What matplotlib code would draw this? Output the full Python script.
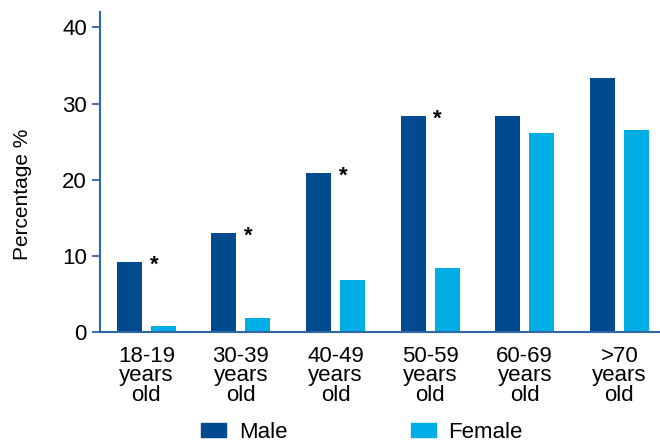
import matplotlib
matplotlib.use("Agg")
import matplotlib.pyplot as plt
import numpy as np
from matplotlib.patches import Patch

plt.rcParams['font.family'] = ['Liberation Sans', 'DejaVu Sans']

categories = ["18-19\nyears\nold", "30-39\nyears\nold", "40-49\nyears\nold",
              "50-59\nyears\nold", "60-69\nyears\nold", ">70\nyears\nold"]
male = [9.2, 13.0, 20.9, 28.4, 28.4, 33.4]
female = [0.85, 1.9, 6.9, 8.4, 26.1, 26.5]
significant = [True, True, True, True, False, False]

male_color = "#004a8f"
female_color = "#00aee6"
spine_color = "#2e66a6"

fig = plt.figure(figsize=(6.6, 4.43), dpi=100)
ax = fig.add_axes([100 / 660, 1 - 332.3 / 443, 1 - 100 / 660, 320.6 / 443])

x = np.arange(len(categories))
w = 0.264
off = 0.18
ax.bar(x - off, male, width=w, color=male_color, label="Male")
ax.bar(x + off, female, width=w, color=female_color, label="Female")

# significance markers beside the male bars
for xi, m, s in zip(x, male, significant):
    if s:
        ax.text(xi + 0.08, m - 0.4, "*", ha="center", va="center",
                fontsize=16, fontweight="bold", color="black")

ax.set_xlim(-0.49, 5.43)
ax.set_ylim(0, 42.05)
ax.set_yticks([0, 10, 20, 30, 40])
ax.set_xticks(x)
ax.set_xticklabels(categories, fontsize=16, linespacing=0.89)
ax.tick_params(axis="x", length=0, pad=10)
ax.tick_params(axis="y", length=5.5, width=1.3, color=spine_color,
               labelsize=16, pad=4)

for side in ("top", "right"):
    ax.spines[side].set_visible(False)
for side in ("left", "bottom"):
    ax.spines[side].set_color(spine_color)
    ax.spines[side].set_linewidth(1.5)

ax.text(-0.139, 0.431, "Percentage %", transform=ax.transAxes, rotation=90,
        ha="center", va="center", fontsize=15)

handles = [Patch(color=male_color, label="Male"),
           Patch(color=female_color, label="Female")]
fig.legend(handles=handles, loc="center", bbox_to_anchor=(362 / 660, 1 - 432.5 / 443),
           ncol=2, frameon=False, fontsize=16, handlelength=1.13,
           handleheight=0.63, handletextpad=0.57, columnspacing=5.55,
           borderaxespad=0, borderpad=0)

fig.savefig("out.png", dpi=100)
